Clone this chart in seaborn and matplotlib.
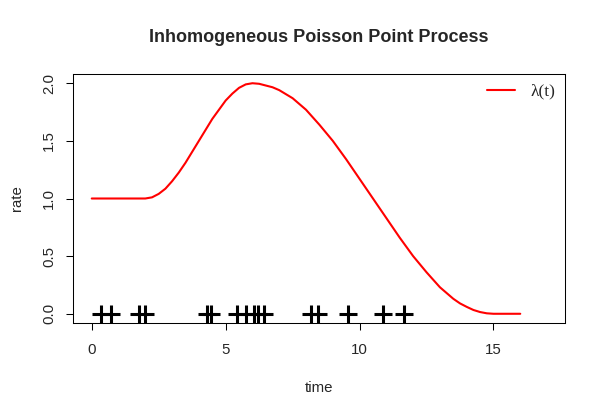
import matplotlib
matplotlib.use("Agg")
import matplotlib.pyplot as plt
import seaborn as sns
import pandas as pd

# rate curve lambda(t)
time = [0, 1, 2, 2.25, 2.5, 2.75, 3, 3.25, 3.5, 4, 4.5, 5, 5.25, 5.5, 5.75, 6, 6.25,
        6.5, 6.75, 7, 7.5, 8, 8.5, 9, 9.5, 10, 10.5, 11, 11.5, 12, 12.5, 13, 13.5,
        13.75, 14, 14.25, 14.5, 14.75, 15, 16]
rate = [1.0, 1.0, 1.0, 1.01, 1.04, 1.085, 1.15, 1.225, 1.31, 1.5, 1.69, 1.85, 1.91,
        1.96, 1.99, 2.0, 1.995, 1.98, 1.965, 1.94, 1.87, 1.77, 1.64, 1.5, 1.34, 1.17,
        1.0, 0.83, 0.66, 0.5, 0.36, 0.23, 0.13, 0.09, 0.06, 0.033, 0.015, 0.004,
        0.0, 0.0]

# event times (plotted at rate 0)
events = [0.36, 0.71, 1.76, 1.99, 4.30, 4.46, 5.42, 5.77, 6.04, 6.19, 6.45,
          8.18, 8.43, 9.55, 10.86, 11.67]

curve = pd.DataFrame({"time": time, "rate": rate})
points = pd.DataFrame({"time": events, "rate": [0] * len(events)})

sns.set_style("white")
plt.rcParams["font.family"] = ["Liberation Sans", "DejaVu Sans"]

fig = plt.figure(figsize=(6.03, 4.16), dpi=100)
ax = fig.add_axes([73 / 603, 1 - 323 / 416, (565 - 73) / 603, (323 - 74) / 416])

sns.lineplot(data=curve, x="time", y="rate", color="red", linewidth=1.5,
             label="λ(t)", ax=ax)
sns.scatterplot(data=points, x="time", y="rate", marker="+", color="black",
                s=170, linewidth=2.2, ax=ax, legend=False)

ax.set_xlim(-0.70, 17.67)
ax.set_ylim(-0.08, 2.08)
ax.set_xticks([0, 5, 10, 15])
ax.set_yticks([0, 0.5, 1.0, 1.5, 2.0])
ax.set_yticklabels(["0.0", "0.5", "1.0", "1.5", "2.0"], rotation=90, va="center")

for s in ax.spines.values():
    s.set_color("black")
    s.set_linewidth(0.75)

ax.tick_params(axis="both", direction="out", length=5, width=0.75, color="black",
               labelsize=10.8, left=True, bottom=True)
ax.tick_params(axis="x", pad=9.5)
ax.tick_params(axis="y", pad=7)

ax.set_xlabel("time", fontsize=10.8, labelpad=17)
ax.set_ylabel("rate", fontsize=10.8, labelpad=13)

fig.suptitle("Inhomogeneous Poisson Point Process", fontsize=13,
             fontweight="bold", x=(73 + 565) / 2 / 603, y=1 - 37 / 416, va="center")

leg = ax.legend(loc="upper right", frameon=False, handlelength=1.6,
                prop={"family": "Liberation Serif", "size": 12.5},
                borderaxespad=0.15, handletextpad=0.9)

fig.savefig("out.png", dpi=100)
